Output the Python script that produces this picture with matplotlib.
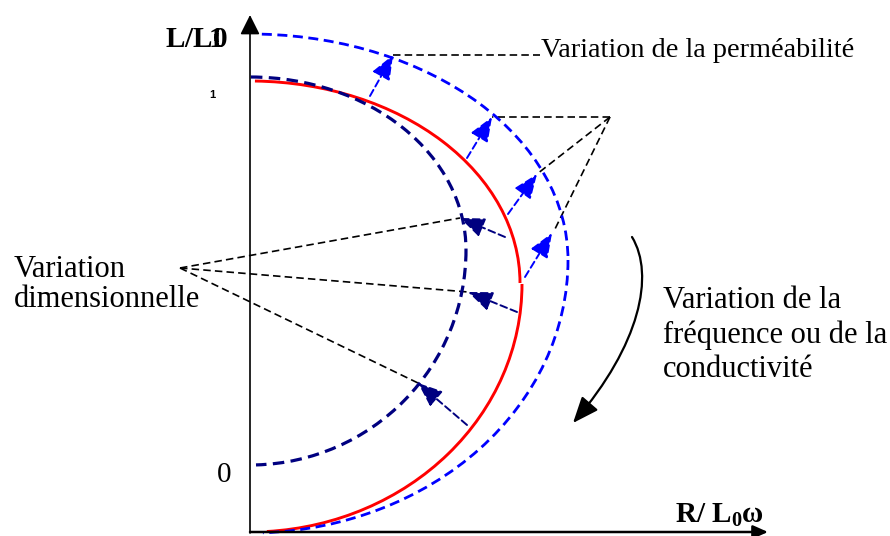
import numpy as np
import matplotlib
matplotlib.use("Agg")
import matplotlib.pyplot as plt
from matplotlib.patches import Arc, FancyArrowPatch
from matplotlib.path import Path

plt.rcParams["mathtext.fontset"] = "custom"
plt.rcParams["mathtext.rm"] = "Liberation Serif"
plt.rcParams["mathtext.bf"] = "Liberation Serif:bold"
plt.rcParams["mathtext.it"] = "Liberation Serif:italic"

SERIF = "Liberation Serif"

# ---- diagram data (drawing units = reference pixels, y downward) ----
origin = (250, 532)
y_axis_top = 15
x_axis_end = 768

# impedance curves: each made of an upper and a lower elliptic quarter
curve_names = ["reference", "dimension", "permeability"]
curve_colors = ["#ff0000", "#000080", "#0000ff"]
curve_centers_upper = [(250, 283), (250, 250), (250, 260)]
curve_centers_lower = [(250, 284), (250, 250), (250, 260)]
curve_semi_x_upper = [270, 216, 318]
curve_semi_x_lower = [272, 216, 318]
curve_semi_y_upper = [202, 173, 226]
curve_semi_y_lower = [248, 215, 273]
curve_start_angle = [-88.6, -89.7, -87.0]
curve_end_angle = [86.1, 88.4, 87.3]
curve_dashed = [False, True, True]
curve_lw = [2.1, 2.3, 2.0]

# permeability arrows (from reference curve to outer curve)
perm_tails = [(370, 96), (467, 158), (508, 214), (525, 277)]
perm_tips = [(393, 55), (492, 117), (537, 174), (552, 233)]

# dimensional arrows (from reference curve to inner curve)
dim_tails = [(505, 237), (517, 312), (467, 425)]
dim_tips = [(460, 218), (468, 292), (418, 383)]

# leader lines
perm_label_apex = (540, 55)
perm_group_apex = (610, 117)
perm_group_targets = [(492, 117), (537, 174), (555, 229)]
dim_apex = (180, 268)

# curved frequency arrow (cubic Bezier control points)
freq_arrow_ctrl = [(632, 237), (655, 275), (640, 345), (573, 423)]

fig = plt.figure(figsize=(8.9, 5.36), dpi=100)
ax = fig.add_axes([0, 0, 1, 1])
ax.set_xlim(0, 890)
ax.set_ylim(536, 0)
ax.axis("off")

# ---- leader lines (black dashed) ----
lk = dict(color="black", lw=1.2, linestyle=(0, (4.5, 2.5)), zorder=2)
ax.plot([perm_tips[0][0], perm_label_apex[0]], [perm_tips[0][1], perm_label_apex[1]], **lk)
for t in perm_group_targets:
    ax.plot([perm_group_apex[0], t[0]], [perm_group_apex[1], t[1]], **lk)
for t in dim_tips:
    ax.plot([dim_apex[0], t[0]], [dim_apex[1], t[1]], **lk)

# ---- axes with arrows ----
ax.annotate("", xy=(origin[0], y_axis_top), xytext=(origin[0], origin[1] + 1),
            arrowprops=dict(arrowstyle="-|>,head_length=1.2,head_width=0.6",
                            mutation_scale=10, lw=1.2, color="black",
                            shrinkA=0, shrinkB=0), zorder=5)
ax.annotate("", xy=(x_axis_end, origin[1]), xytext=(origin[0], origin[1]),
            arrowprops=dict(arrowstyle="-|>,head_length=0.9,head_width=0.4",
                            mutation_scale=10, lw=1.8, color="black",
                            shrinkA=0, shrinkB=0), zorder=5)

# ---- curves ----
for i in range(len(curve_names)):
    ls = (0, (3.6, 2.0)) if curve_dashed[i] else "-"
    up = Arc(curve_centers_upper[i], 2 * curve_semi_x_upper[i], 2 * curve_semi_y_upper[i],
             theta1=curve_start_angle[i], theta2=0, color=curve_colors[i],
             lw=curve_lw[i], linestyle=ls, zorder=3)
    lo = Arc(curve_centers_lower[i], 2 * curve_semi_x_lower[i], 2 * curve_semi_y_lower[i],
             theta1=0, theta2=curve_end_angle[i], color=curve_colors[i],
             lw=curve_lw[i], linestyle=ls, zorder=3)
    ax.add_patch(up)
    ax.add_patch(lo)

# ---- small arrows ----
def small_arrow(tail, tip, color):
    ax.annotate("", xy=tip, xytext=tail,
                arrowprops=dict(arrowstyle="-|>,head_length=1.5,head_width=0.6",
                                mutation_scale=10, lw=1.4, linestyle=(0, (3.6, 2.0)),
                                color=color, shrinkA=0, shrinkB=0), zorder=4)

for t, h in zip(perm_tails, perm_tips):
    small_arrow(t, h, "#0000ff")
for t, h in zip(dim_tails, dim_tips):
    small_arrow(t, h, "#000080")

# ---- curved frequency arrow ----
fpath = Path(freq_arrow_ctrl, [Path.MOVETO, Path.CURVE4, Path.CURVE4, Path.CURVE4])
farrow = FancyArrowPatch(path=fpath, arrowstyle="-|>,head_length=1.6,head_width=0.65",
                         mutation_scale=10, lw=1.6, color="black", zorder=4)
ax.add_patch(farrow)

# ---- texts ----
ax.text(541, 57, "Variation de la perméabilité", fontsize=20.3, family=SERIF,
        ha="left", va="baseline")
ax.text(14, 277, "Variation", fontsize=22, family=SERIF, ha="left", va="baseline")
ax.text(14, 307, "dimensionnelle", fontsize=22, family=SERIF, ha="left", va="baseline")
ax.text(663, 308, "Variation de la", fontsize=22, family=SERIF, ha="left", va="baseline")
ax.text(663, 343, "fréquence ou de la", fontsize=22, family=SERIF, ha="left", va="baseline")
ax.text(663, 377, "conductivité", fontsize=22, family=SERIF, ha="left", va="baseline")
ax.text(217, 482, "0", fontsize=21, family=SERIF, ha="left", va="baseline")
ax.text(675, 523, r"R/ L$_\mathbf{0}$ω", fontsize=21, family=SERIF, fontweight="bold",
        ha="left", va="baseline")
ax.text(165, 47, r"L/L$\!\mathbf{1}\!\!\!\mathbf{0}$", fontsize=21, family=SERIF,
        fontweight="bold", ha="left", va="baseline")
ax.text(212, 95, "1", fontsize=8, family="Liberation Sans", fontweight="bold",
        ha="center", va="center")

fig.savefig("out.png", dpi=100)
